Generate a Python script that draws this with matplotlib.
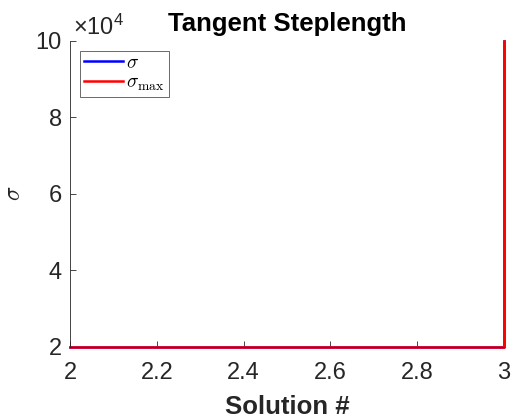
import numpy as np
import matplotlib
matplotlib.use('Agg')
import matplotlib.pyplot as plt

plt.rcParams['font.family'] = ['Liberation Sans', 'DejaVu Sans']
plt.rcParams['mathtext.fontset'] = 'cm'

# data
solution = [2, 3]
sigma = [2e4, 1e5]
sigma_max = [2e4, 1e5]

txt = '#262626'
axcol = '#262626'

fig = plt.figure(figsize=(5.13, 4.18), dpi=100)
ax = fig.add_axes([0.1365, 0.170, 0.8455, 0.732])

# stairs: horizontal then vertical at the last solution
xs = [solution[0], solution[1], solution[1]]
l1, = ax.plot(xs, [sigma[0], sigma[0], sigma[1]], color='#0000ff', lw=1.8, clip_on=False)
l2, = ax.plot(xs, [sigma_max[0], sigma_max[0], sigma_max[1]], color='#ff0000', lw=1.8,
              clip_on=False)

ax.set_xlim(2, 3)
ax.set_ylim(2e4, 1e5)
ax.set_xticks([2, 2.2, 2.4, 2.6, 2.8, 3])
ax.set_xticklabels(['2', '2.2', '2.4', '2.6', '2.8', '3'])
ax.set_yticks([2e4, 4e4, 6e4, 8e4, 1e5])
ax.set_yticklabels(['2', '4', '6', '8', '10'])
ax.text(0.006, 1.02, r'$\mathregular{\times10^4}$', transform=ax.transAxes, fontsize=17,
        color=txt, ha='left', va='baseline')

for s in ['top', 'right']:
    ax.spines[s].set_visible(False)
for s in ['left', 'bottom']:
    ax.spines[s].set_color(axcol)
    ax.spines[s].set_linewidth(0.6)
ax.tick_params(direction='in', length=4, width=0.6, colors=axcol, labelsize=17,
               labelcolor=txt)
ax.tick_params(axis='x', pad=11)
ax.tick_params(axis='y', pad=6)

ax.set_title('Tangent Steplength', fontsize=18.5, fontweight='bold', color='black', pad=7)
ax.set_xlabel('Solution #', fontsize=18.5, fontweight='bold', color=txt, labelpad=8)
ax.set_ylabel(r'$\sigma$', fontsize=17, color=txt)
ax.yaxis.set_label_coords(-0.104, 0.503)

leg = ax.legend([l1, l2], [r'$\sigma$', r'$\sigma_{\max}$'],
                loc='upper left', fontsize=14, frameon=True, fancybox=False,
                edgecolor='#262626', handlelength=2.05, handletextpad=0.15,
                borderpad=0.2, labelspacing=0.12, borderaxespad=0.5)
leg.get_frame().set_linewidth(0.6)

fig.savefig('out.png', dpi=100)
